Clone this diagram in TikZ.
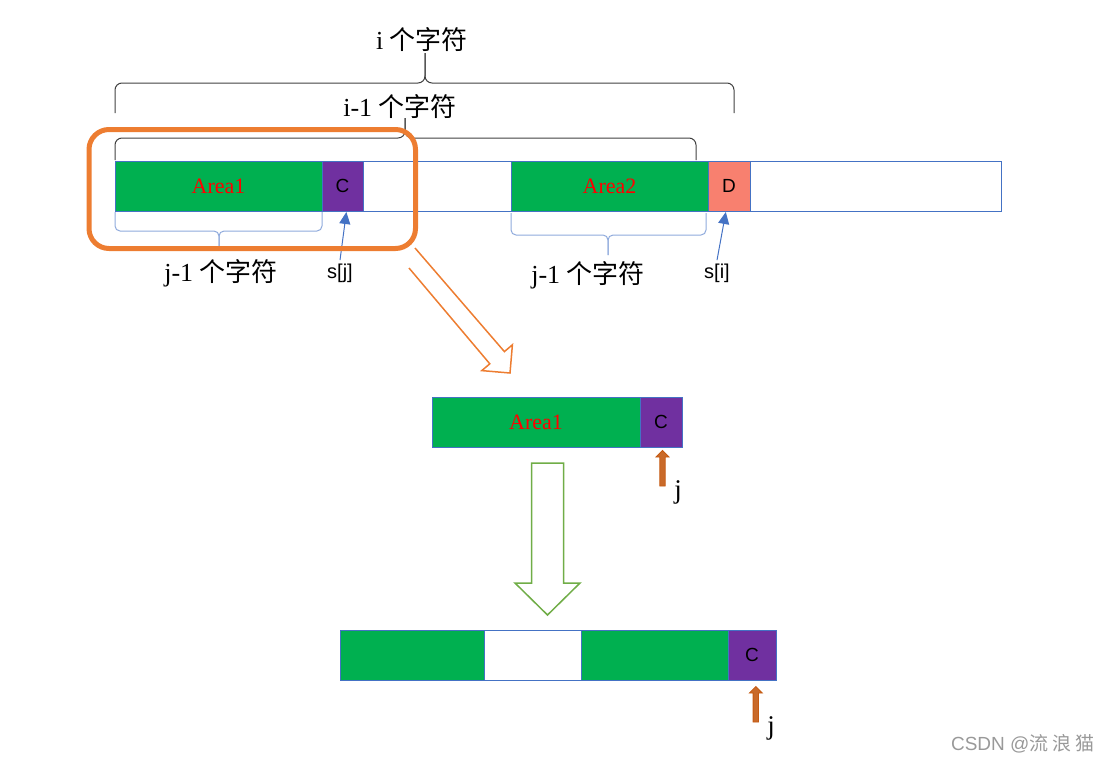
\documentclass[tikz,border=0pt]{standalone}
\usepackage{fontspec}
\setmainfont{Liberation Serif}
\newfontfamily\cjkfont{Noto Sans CJK SC}
\newfontfamily\arialfont{Liberation Sans}
\usetikzlibrary{arrows.meta}
\definecolor{areagreen}{HTML}{00B050}
\definecolor{cpurple}{HTML}{7030A0}
\definecolor{dsalmon}{HTML}{F8806F}
\definecolor{cellblue}{HTML}{4472C4}
\definecolor{bracegray}{HTML}{404040}
\definecolor{bracelightblue}{HTML}{8FAADC}
\definecolor{markorange}{HTML}{ED7D31}
\definecolor{markorangedark}{HTML}{C55A11}
\definecolor{arrowgreen}{HTML}{70AD47}

\begin{document}
\begin{tikzpicture}[x=1pt,y=-1pt,
  cell/.style={draw=cellblue,line width=1pt,anchor=north west,minimum height=50pt,inner sep=0pt,outer sep=0pt},
  areatext/.style={text=red,font=\fontsize{22}{25}\selectfont},
  lettertext/.style={text=black,font=\arialfont\fontsize{19}{22}\selectfont},
  labeltext/.style={font=\fontsize{26}{30}\selectfont},
  idxtext/.style={font=\arialfont\fontsize{20}{23}\selectfont},
  jtext/.style={font=\fontsize{27}{31}\selectfont},
  bracedark/.style={draw=bracegray,line width=1pt,rounded corners=7pt},
  bracelight/.style={draw=bracelightblue,line width=1pt,rounded corners=5pt},
  idxarrow/.style={draw=cellblue,line width=1pt,-{Triangle[length=12pt,width=11pt]},shorten >=1pt},
  highlight/.style={draw=markorange,line width=5pt,rounded corners=20pt},
  slantarrow/.style={draw=markorange,line width=1.5pt,line join=miter},
  downarrow/.style={draw=arrowgreen,fill=white,line width=1.5pt,line join=miter},
  jarrow/.style={draw=markorangedark,line width=0.8pt,left color=markorange!85!black,middle color=markorange!75!white,right color=markorange!85!black},
  marktext/.style={text=black!40,font=\arialfont\fontsize{19}{22}\selectfont}]
\path[use as bounding box] (0,0) rectangle (1110,763);

% braces above the string
\draw[bracedark] (115,113) -- (115,83) -- (425,83) -- (425,53);
\draw[bracedark] (734,113) -- (734,83) -- (425,83) -- (425,53);
\node[labeltext] (ilabel) at (422,40) {i {\cjkfont 个字符}};
\draw[bracedark] (115,160) -- (115,138) -- (405,138) -- (405,118);
\draw[bracedark] (696,160) -- (696,138) -- (405,138) -- (405,118);
\node[labeltext] (ionelabel) at (400,107) {i-1 {\cjkfont 个字符}};

% string s
\node[cell,fill=areagreen,minimum width=207pt,areatext] (topa1) at (115,161) {Area1};
\node[cell,fill=cpurple,minimum width=41pt,lettertext] (topc) at (topa1.north east) {C};
\node[cell,minimum width=148pt] (topgap) at (topc.north east) {};
\node[cell,fill=areagreen,minimum width=197pt,areatext] (topa2) at (topgap.north east) {Area2};
\node[cell,fill=dsalmon,minimum width=42pt,lettertext] (topd) at (topa2.north east) {D};
\node[cell,minimum width=251pt] (toprest) at (topd.north east) {};

% braces below the string
\draw[bracelight] (115,212) -- (115,231) -- (219,231) -- (219,249);
\draw[bracelight] (322,212) -- (322,231) -- (219,231) -- (219,249);
\node[labeltext] (jleft) at (221,273) {j-1 {\cjkfont 个字符}};
\draw[bracelight] (511,213) -- (511,235) -- (608,235) -- (608,255);
\draw[bracelight] (706,213) -- (706,235) -- (608,235) -- (608,255);
\node[labeltext] (jright) at (588,275) {j-1 {\cjkfont 个字符}};

% index pointers
\node[idxtext] (sj) at (340,273) {s[j]};
\draw[idxarrow] (sj.north) -- ([xshift=4pt]topc.south);
\node[idxtext] (si) at (717,273) {s[i]};
\draw[idxarrow] (si.north) -- ([xshift=-3pt]topd.south);

% highlight and hollow arrows
\draw[highlight] (89,129.5) rectangle (415.5,248.5);
\draw[slantarrow] (415,248) -- (504.4,351.6) -- (512.4,344.8) -- (510,373)
  -- (481.8,370.6) -- (489.8,363.8) -- (409,268);
\draw[downarrow] (531.5,463) -- (563.5,463) -- (563.5,583) -- (580,583)
  -- (547.5,615) -- (515,583) -- (531.5,583) -- cycle;

% prefix Area1 + C
\node[cell,fill=areagreen,minimum width=208pt,areatext] (mida1) at (432,397) {Area1};
\node[cell,fill=cpurple,minimum width=42pt,lettertext] (midc) at (mida1.north east) {C};

% result string
\node[cell,fill=areagreen,minimum width=144pt] (bota1) at (340,630) {};
\node[cell,minimum width=97pt] (botgap) at (bota1.north east) {};
\node[cell,fill=areagreen,minimum width=147pt] (bota2) at (botgap.north east) {};
\node[cell,fill=cpurple,minimum width=48pt,lettertext] (botc) at (bota2.north east) {C};

% j pointers
\foreach \ax/\ay in {662.5/450.5,755.8/686.5}
  \draw[jarrow,shift={(\ax,\ay)}] (0,0) -- (6.5,6.5) -- (2.7,6.5) -- (2.7,35.5)
    -- (-2.7,35.5) -- (-2.7,6.5) -- (-6.5,6.5) -- cycle;
\node[jtext] (jmid) at (678,492) {j};
\node[jtext] (jbot) at (771,728) {j};

\node[marktext] (mark) at (1023,744) {CSDN @{\cjkfont 流 浪 猫}};
\end{tikzpicture}
\end{document}
